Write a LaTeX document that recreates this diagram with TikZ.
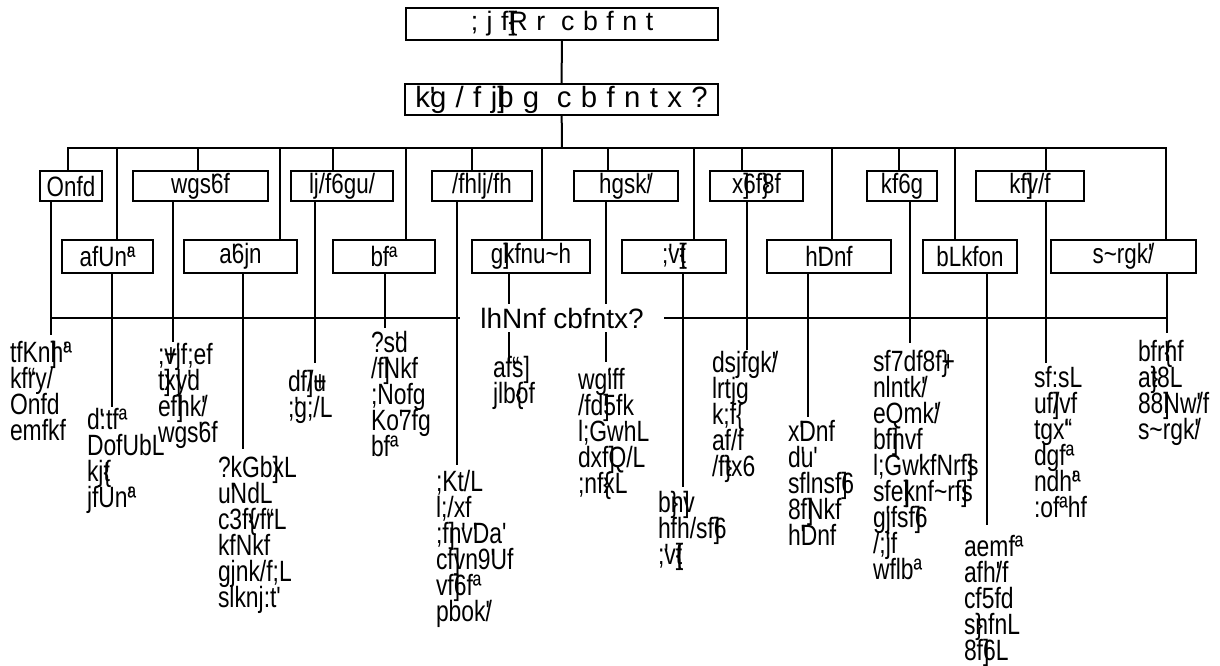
\documentclass[tikz,border=0pt]{standalone}
\usepackage{fontspec}
\newfontfamily\bxf{Liberation Sans}[FakeStretch=0.8]
\newfontfamily\lbf{Liberation Sans}
\newfontfamily\lff{Liberation Sans}[FakeStretch=0.78]
\newfontfamily\tpf{Liberation Sans}[LetterSpace=32]
\newcommand\Z[1]{\makebox[0pt][l]{#1}}
\newcommand\TL{\char"7E\relax}
\newcommand\leaf[1]{\vtop{\baselineskip=19.5pt\lineskiplimit=-100pt\halign{##\hfil\cr#1\crcr}}}
\begin{document}
\begin{tikzpicture}[x=0.75pt,y=-0.75pt,line width=1.5pt,
  cbox/.style 2 args={draw,line width=1.5pt,inner sep=0pt,minimum width=#1*0.75pt,minimum height=#2*0.75pt,font=\bxf\fontsize{21}{21}\selectfont},
  lf/.style={anchor=base west,inner sep=0pt,font=\lff\fontsize{22}{19.5}\selectfont}]
\useasboundingbox[fill=white] (0,0) rectangle (1220,665);
% top boxes
\node[cbox={312}{32},font=\tpf\fontsize{20}{20}\selectfont] (sc) at (562,24) {;jf\Z]\Z\{Rr cbfnt\hspace{24pt}};
\node[cbox={313}{31},font=\tpf\fontsize{22}{22}\selectfont] (ac) at (561.5,99.5) {k\Z'g/fj\Z]bg cbfntx?\hspace{26pt}};
% row 1
\node[cbox={62}{30}] (ilam) at (71,186) {Onfd};
\node[cbox={135}{30}] (dhan) at (200.5,186) {wgs\Z'6f};
\node[cbox={102}{30}] (birat) at (342,186) {lj/f6gu/};
\node[cbox={100}{30}] (rajb) at (482,186) {/fhlj/fh};
\node[cbox={104}{30}] (jank) at (626,186) {hgsk\Z'/};
\node[cbox={93}{30}] (hetd) at (756.5,186) {x\Z]6f\Z\}8f};
\node[cbox={70}{30}] (patn) at (902,186) {kf6g};
\node[cbox={108}{30}] (pokh) at (1030,186) {kf\Z]v/f};
% row 2
\node[cbox={91}{33}] (bagl) at (107.5,256.5) {afUn\Z'ª};
\node[cbox={113}{33}] (butw) at (240.5,256.5) {a\Z'6jn};
\node[cbox={102}{33}] (dang) at (384,256.5) {bfª};
\node[cbox={118}{33}] (nepg) at (531,256.5) {g\Z]kfnu\TL h};
\node[cbox={104}{33}] (surk) at (674,256.5) {;\Z'v\Z]\Z\{t};
\node[cbox={124}{33}] (juml) at (829,256.5) {h\Z'Dnf};
\node[cbox={94}{33}] (dipa) at (970,256.5) {bLkfon};
\node[cbox={145}{33}] (kanc) at (1123.5,256.5) {s\TL rgk\Z'/};
% trunk
\coordinate (t1) at (562,148);
\draw (sc) -- (ac);
\draw (ac) -- (t1);
\coordinate (busL) at (68,148);
\coordinate (busR) at (1166,148);
\draw (busL |- ilam.north) -- (busL) -- (busR) -- (busR |- kanc.north);
\foreach \n/\x in {bagl/117,dhan/198,butw/280,birat/333,dang/406,rajb/472,nepg/542,jank/608,surk/694,hetd/742,juml/832,patn/899,dipa/955,pokh/1046}{
  \coordinate (d\n) at (\x,148);
  \draw (d\n) -- (d\n |- \n.north);
}
% district bus
\coordinate (c2L) at (51,318);
\coordinate (c2R) at (1167,318);
\draw (c2L) -- (c2R);
\foreach \n/\x/\y in {ilam/51/335,bagl/112/407,dhan/173/342,butw/243/449,birat/315/363,dang/385/328,rajb/457/465,nepg/509/362,jank/606/362,surk/683/487,hetd/747/350,juml/808/417,patn/910/343,dipa/987/525,pokh/1046/363,kanc/1167/333}{
  \coordinate (e\n) at (\x,\y);
  \draw (e\n |- \n.south) -- (e\n);
}
\node[fill=white,inner sep=0pt,minimum width=204*0.75pt,minimum height=28*0.75pt,font=\lbf\fontsize{21}{21}\selectfont] (dc) at (562,318) {lhNnf cbfntx?};
% district lists
\node[lf] (lA) at (9,362) {\leaf{tfKn\Z]h\Z'ª\cr kf\Z“ry/\cr Onfd\cr emfkf}};
\node[lf] (lB) at (86,429) {\leaf{d\Z':tfª\cr DofUbL\cr kj\Z\{t\cr jfUn\Z'ª}};
\node[lf] (lC) at (157,364) {\leaf{;\Z+v\Z'jf;ef\cr t\Z]x\Z|y\Z'd\cr ef\Z]hk\Z'/\cr wgs\Z'6f}};
\node[lf] (lD) at (217,477) {\leaf{?kGb\Z]xL\cr u\Z'NdL\cr c3f\Z\{vf\Z“rL\cr kfNkf\cr gjnk/f;L\cr slknj:t'}};
\node[lf] (lE) at (287,391) {\leaf{df\Z]/\Z+u\cr ;\Z'g;/L}};
\node[lf] (lF) at (370,352) {\leaf{?s\Z'd\cr /f\Z]Nkf\cr ;Nofg\cr Ko\Z'7fg\cr bfª}};
\node[lf] (lG) at (435,491) {\leaf{;Kt/L\cr l;/xf\cr ;f\Z]n\Z'v\Z'Da'\cr cf\Z]vn9\Z'Uf\cr vf\Z]6fª\cr pbok\Z'/}};
\node[lf] (lH) at (492,377) {\leaf{af\Z“s\Z]\cr jlb\Z\{of}};
\node[lf] (lI) at (577,389) {\leaf{wg\Z'iff\cr /fd\Z]5fk\cr l;Gw\Z'nL\cr dxf\Z]Q/L\cr ;nf\Z\{xL}};
\node[lf] (lJ) at (657,512) {\leaf{b\Z\}n\Z]v\cr hfh/sf\Z]6\cr ;\Z'v\Z]\Z\{t}};
\node[lf] (lK) at (711,372) {\leaf{dsjfgk\Z'/\cr lrtjg\cr k;f\Z\{\cr af/f\cr /f\Z\}tx6}};
\node[lf] (lL) at (787,441) {\leaf{x\Z'Dnf\cr d\Z'u'\cr sflnsf\Z]6\cr 8f\Z]Nkf\cr h\Z'Dnf}};
\node[lf] (lM) at (872,371) {\leaf{sf7df8f\Z\}\Z+\cr nlntk\Z'/\cr eQmk\Z'/\cr bf\Z]nvf\cr l;Gw\Z'kfNrf\Z]s\cr sfe\Z|\Z]knf\TL rf\Z]s\cr g\Z'jfsf\Z]6\cr /;\Z'jf\cr wflbª}};
\node[lf] (lN) at (963,556) {\leaf{aemfª\cr afh\Z'/f\cr cf5fd\cr s\Z\}nfnL\cr 8f\Z]6L}};
\node[lf] (lO) at (1033,387) {\leaf{sf:sL\cr uf\Z]/vf\cr tgx\Z'\Z“\cr dgfª\cr ndh\Z'ª\cr :ofªhf}};
\node[lf] (lP) at (1137,361) {\leaf{bfr\Z'\Z\{nf\cr a\Z\}t8L\cr 88\Z]Nw\Z'/f\cr s\TL rgk\Z'/}};
\end{tikzpicture}
\end{document}
